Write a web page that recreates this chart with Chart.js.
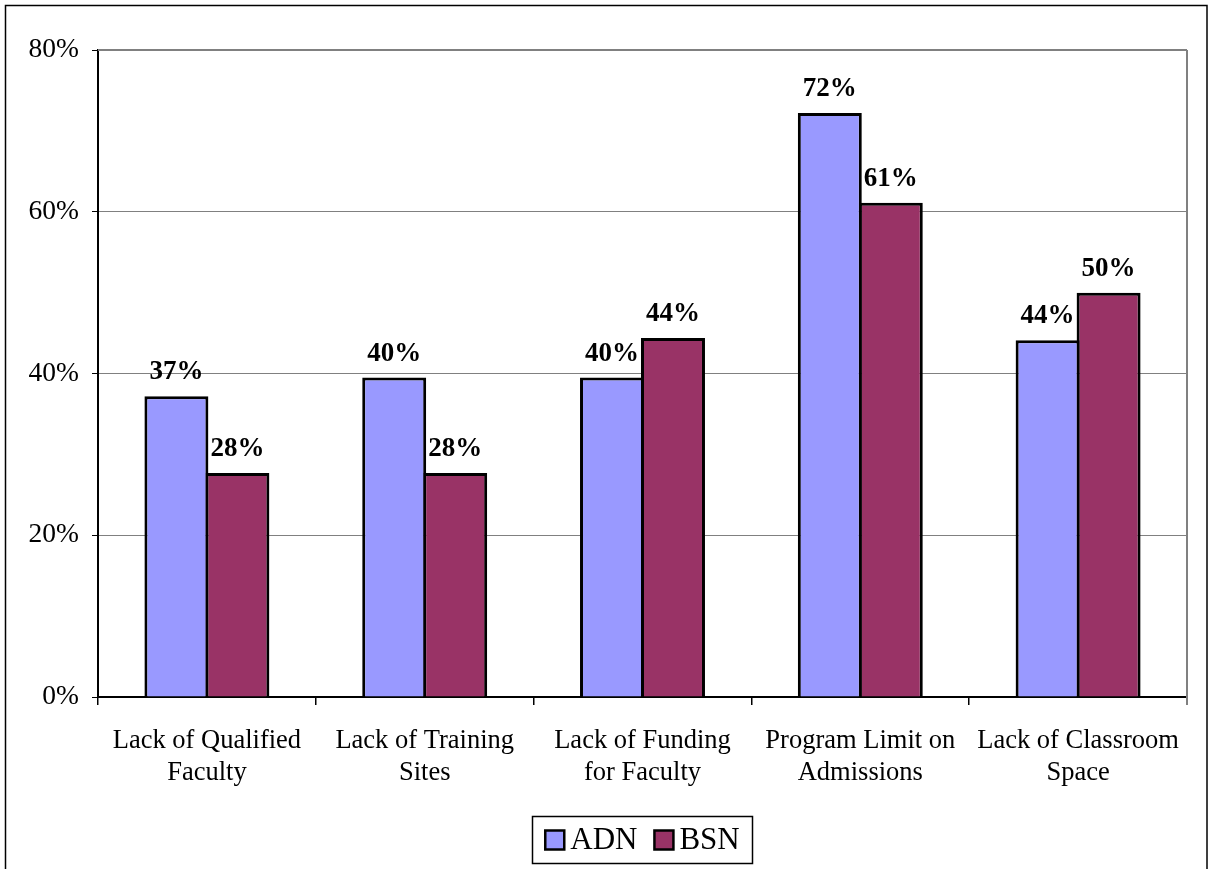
<!DOCTYPE html>
<html>
<head>
<meta charset="utf-8">
<script src="https://cdn.jsdelivr.net/npm/chart.js@4.4.0/dist/chart.umd.min.js"></script>
<style>
  body { margin: 0; background: #fff; }
  canvas { display: block; }
</style>
</head>
<body>
<canvas id="barrierChart" width="1208" height="869"></canvas>
<script>
// data
const categories = [
    ['Lack of Qualified', 'Faculty'],
    ['Lack of Training', 'Sites'],
    ['Lack of Funding', 'for Faculty'],
    ['Program Limit on', 'Admissions'],
    ['Lack of Classroom', 'Space']
];
const adnValues = [37.2, 39.5, 39.5, 72.2, 44.1];
const bsnValues = [27.7, 27.7, 44.4, 61.1, 50.0];
const yTicks = [0, 20, 40, 60, 80];

const serif = "'Liberation Serif', 'Times New Roman', serif";

// value labels above each bar
const valueLabels = {
    id: 'valueLabels',
    afterDatasetsDraw(chart) {
        const ctx = chart.ctx;
        ctx.save();
        ctx.font = 'bold 27px ' + serif;
        ctx.fillStyle = '#000';
        ctx.textAlign = 'center';
        ctx.textBaseline = 'alphabetic';
        chart.data.datasets.forEach((ds, i) => {
            chart.getDatasetMeta(i).data.forEach((bar, j) => {
                ctx.fillText(Math.round(ds.data[j]) + '%', bar.x, bar.y - 17);
            });
        });
        ctx.restore();
    }
};

// plot border, outer frame and boxed legend
const frameAndLegend = {
    id: 'frameAndLegend',
    afterDraw(chart) {
        const ctx = chart.ctx;
        const area = chart.chartArea;
        ctx.save();
        ctx.strokeStyle = '#808080';
        ctx.lineWidth = 2;
        ctx.beginPath();
        ctx.moveTo(area.left, area.top);
        ctx.lineTo(area.right, area.top);
        ctx.moveTo(area.right, area.top);
        ctx.lineTo(area.right, area.bottom + 8);
        ctx.stroke();

        ctx.strokeStyle = '#000';
        ctx.lineWidth = 1.5;
        ctx.strokeRect(5.5, 5.5, chart.width - 6.5, chart.height + 5);

        // legend
        ctx.font = '31px ' + serif;
        ctx.textBaseline = 'middle';
        ctx.textAlign = 'left';
        const sq = 19, gapText = 6, gapItem = 17;
        const items = chart.data.datasets.map(ds => ({
            label: ds.label, color: ds.backgroundColor, w: ctx.measureText(ds.label).width
        }));
        let total = 0;
        items.forEach((it, i) => { total += sq + gapText + it.w + (i ? gapItem : 0); });
        const cx = (area.left + area.right) / 2;
        const cy = 840;
        const boxW = total + 26;
        ctx.lineWidth = 1.5;
        ctx.strokeRect(Math.round(cx - boxW / 2) + 0.5, 816.5, Math.round(boxW), 47);
        let x = cx - total / 2;
        items.forEach((it, i) => {
            if (i) x += gapItem;
            ctx.fillStyle = it.color;
            ctx.fillRect(x, cy - sq / 2, sq, sq);
            ctx.lineWidth = 2.5;
            ctx.strokeRect(x, cy - sq / 2, sq, sq);
            x += sq + gapText;
            ctx.fillStyle = '#000';
            ctx.fillText(it.label, x, cy + 1);
            x += it.w;
        });
        ctx.restore();
    }
};

new Chart(document.getElementById('barrierChart').getContext('2d'), {
    type: 'bar',
    data: {
        labels: categories,
        datasets: [
            {
                label: 'ADN',
                data: adnValues,
                backgroundColor: '#9999FF',
                borderColor: '#000',
                borderWidth: 3,
                categoryPercentage: 0.56,
                barPercentage: 1.049
            },
            {
                label: 'BSN',
                data: bsnValues,
                backgroundColor: '#993366',
                borderColor: '#000',
                borderWidth: 3,
                categoryPercentage: 0.56,
                barPercentage: 1.049
            }
        ]
    },
    options: {
        responsive: false,
        animation: false,
        devicePixelRatio: 1,
        layout: {
            padding: { top: 50, right: 21, bottom: 72, left: 0 }
        },
        plugins: {
            legend: { display: false },
            tooltip: { enabled: false },
            title: { display: false }
        },
        scales: {
            x: {
                grid: {
                    offset: true,
                    drawOnChartArea: false,
                    drawTicks: true,
                    tickLength: 8,
                    tickColor: '#000',
                    lineWidth: 1.5
                },
                border: { color: '#000', width: 2 },
                ticks: {
                    color: '#000',
                    padding: 20,
                    maxRotation: 0,
                    autoSkip: false,
                    font: { family: serif, size: 26.5, lineHeight: 1.2 }
                },
                afterFit(scale) { scale.height = 100; }
            },
            y: {
                min: 0,
                max: 80,
                afterBuildTicks(scale) {
                    scale.ticks = yTicks.map(v => ({ value: v }));
                },
                grid: {
                    color: '#808080',
                    lineWidth: 1,
                    tickLength: 6,
                    tickColor: '#000'
                },
                border: { color: '#000', width: 2 },
                ticks: {
                    color: '#000',
                    padding: 13,
                    font: { family: serif, size: 27.5 },
                    callback: v => v + '%'
                },
                afterFit(scale) { scale.width = 98; }
            }
        }
    },
    plugins: [valueLabels, frameAndLegend]
});
</script>
</body>
</html>
